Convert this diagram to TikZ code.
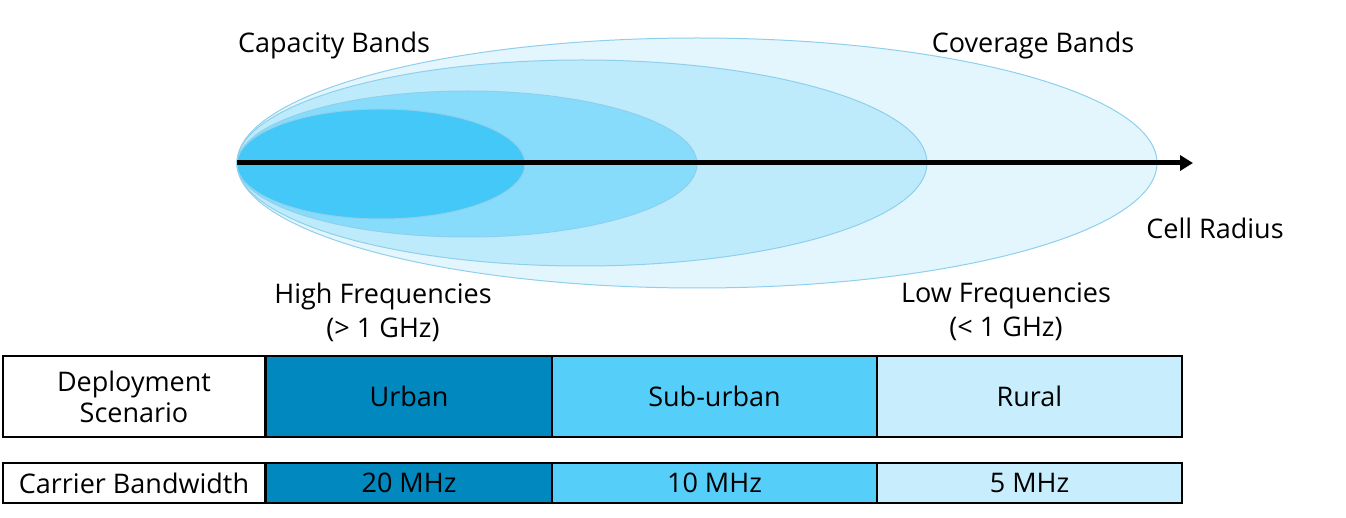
\documentclass[tikz,border=0pt]{standalone}
\usepackage{fontspec}
\setmainfont{Open Sans}
\usetikzlibrary{arrows.meta}
\definecolor{eA}{HTML}{43C8F8}
\definecolor{eB}{HTML}{88DCFB}
\definecolor{eC}{HTML}{BDEBFC}
\definecolor{eD}{HTML}{E3F5FD}
\definecolor{eEdge}{HTML}{8ED0EC}
\definecolor{bUrban}{HTML}{0088BF}
\definecolor{bSub}{HTML}{55CFF9}
\definecolor{bRural}{HTML}{C8EEFD}
\tikzset{
  band/.style={fill=#1, draw=eEdge, line width=1pt},
  lbl/.style={font=\fontsize{27}{34}\selectfont, align=center, inner sep=0pt},
  cell/.style={draw=black, line width=2.5pt, fill=#1, inner sep=0pt, font=\fontsize{27}{31}\selectfont, align=center},
}
\begin{document}
\begin{tikzpicture}[x=1pt,y=-1pt]
\useasboundingbox (0,0) rectangle (1346,518);
% ellipses
\draw[band=eD] (697,163) ellipse [x radius=460, y radius=125];
\draw[band=eC] (582,163) ellipse [x radius=345, y radius=103];
\draw[band=eB] (467,164) ellipse [x radius=230, y radius=73];
\draw[band=eA] (381,164) ellipse [x radius=144, y radius=55];
% axis
\coordinate (o) at (237,163);
\coordinate (e) at (1193,163);
\draw[line width=5pt, -{Triangle[length=13pt,width=15pt]}] (o) -- (e);
% labels
\node[lbl] (cap) at (334,45) {Capacity Bands};
\node[lbl] (cov) at (1033,45) {Coverage Bands};
\node[lbl] (cr) at (1215,228) {Cell Radius};
\node[lbl] (hf) at (383,312) {High Frequencies\\(> 1 GHz)};
\node[lbl] (lf) at (1006,312) {Low Frequencies\\(< 1 GHz)};
% table
\node[cell=white, minimum width=262pt, minimum height=81pt] (dep) at (134,396.5) {Deployment\\Scenario};
\node[cell=bUrban, minimum width=286pt, minimum height=81pt] (urb) at (409,396.5) {Urban};
\node[cell=bSub, minimum width=325pt, minimum height=81pt] (sub) at (714.5,396.5) {Sub-urban};
\node[cell=bRural, minimum width=305pt, minimum height=81pt] (rur) at (1029.5,396.5) {Rural};
\node[cell=white, minimum width=262pt, minimum height=40pt] (cb) at (134,483) {Carrier Bandwidth};
\node[cell=bUrban, minimum width=286pt, minimum height=40pt] (m20) at (409,483) {20 MHz};
\node[cell=bSub, minimum width=325pt, minimum height=40pt] (m10) at (714.5,483) {10 MHz};
\node[cell=bRural, minimum width=305pt, minimum height=40pt] (m5) at (1029.5,483) {5 MHz};
\end{tikzpicture}
\end{document}
